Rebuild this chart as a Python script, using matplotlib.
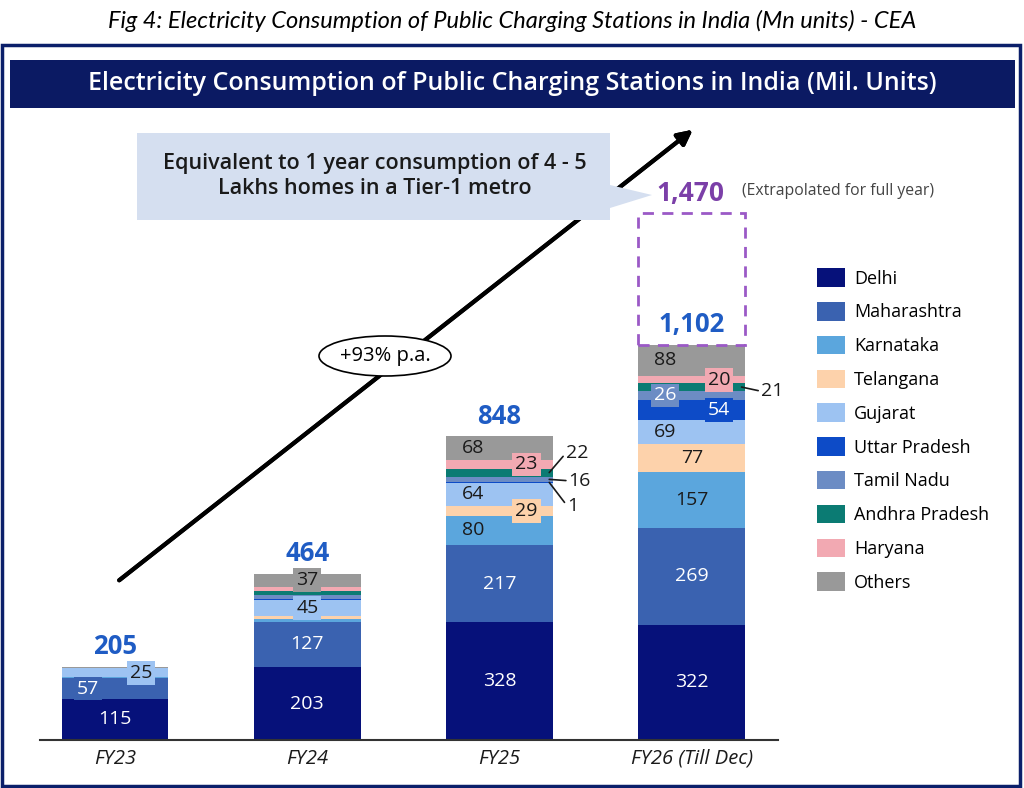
import matplotlib.pyplot as plt
from matplotlib.patches import Rectangle, Ellipse, Polygon
import numpy as np

plt.rcParams['font.family'] = ['Open Sans', 'DejaVu Sans']

# ---- data (Mil. units) ----
years = ['FY23', 'FY24', 'FY25', 'FY26 (Till Dec)']
states = ['Delhi', 'Maharashtra', 'Karnataka', 'Telangana', 'Gujarat',
          'Uttar Pradesh', 'Tamil Nadu', 'Andhra Pradesh', 'Haryana', 'Others']
delhi = [115, 203, 328, 322]
maharashtra = [57, 127, 217, 269]
karnataka = [3, 8, 80, 157]
telangana = [0, 8, 29, 77]
gujarat = [25, 45, 64, 69]
uttar_pradesh = [0, 3, 1, 54]
tamil_nadu = [0, 10, 16, 26]
andhra_pradesh = [0, 12, 22, 21]
haryana = [0, 11, 23, 20]
others = [5, 37, 68, 88]
totals = [205, 464, 848, 1102]
extrapolated_fy26 = 1470
cagr_text = '+93% p.a.'

series = [delhi, maharashtra, karnataka, telangana, gujarat,
          uttar_pradesh, tamil_nadu, andhra_pradesh, haryana, others]
colors = ['#06117a', '#3a62b0', '#5ba6dd', '#fdd2ab', '#9dc3f2',
          '#0d4bc7', '#6c8cc4', '#0b7b73', '#f2a9b2', '#999999']
text_dark = '#1a1a1a'

# label styling: (year idx, state idx) -> (x offset, boxed, white text)
label_style = {
    (0, 0): (0, False, True), (0, 1): (-0.14, True, True), (0, 4): (0.135, True, False),
    (1, 0): (0, False, True), (1, 1): (0, False, True), (1, 4): (0, True, False),
    (1, 9): (0, True, False),
    (2, 0): (0, False, True), (2, 1): (0, False, True), (2, 2): (-0.14, False, False),
    (2, 3): (0.14, True, False), (2, 4): (-0.14, False, False), (2, 8): (0.14, True, False),
    (2, 9): (-0.14, False, False),
    (3, 0): (0, False, True), (3, 1): (0, False, True), (3, 2): (0, False, False),
    (3, 3): (0, False, False), (3, 4): (-0.14, False, False), (3, 5): (0.14, True, True),
    (3, 6): (-0.14, True, True), (3, 8): (0.14, True, False), (3, 9): (-0.14, False, False),
}
# small segments labelled outside: (year idx, state idx) -> text offset in points
outside_labels = {(2, 7): (12, 14), (2, 6): (14, -1), (2, 5): (13, -17), (3, 7): (14, -3)}

W, H = 1024, 788
fig = plt.figure(figsize=(W / 100, H / 100), dpi=100)


def fx(x):
    return x / W


def fy(y):
    return 1 - y / H


# outer frame and title banner
fig.patches.append(Rectangle((fx(2), fy(786)), fx(1018), (786 - 45) / H, transform=fig.transFigure,
                             fill=False, edgecolor='#0b1f6a', lw=2.5))
fig.patches.append(Rectangle((fx(10), fy(108)), fx(1005), 48 / H, transform=fig.transFigure,
                             facecolor='#0b1a63', edgecolor='none'))
fig.text(0.5, fy(21), 'Fig 4: Electricity Consumption of Public Charging Stations in India (Mn units) - CEA',
         ha='center', va='center', fontsize=17, style='italic', family=['Lato', 'DejaVu Sans'])
fig.text(0.5, fy(84), 'Electricity Consumption of Public Charging Stations in India (Mil. Units)',
         ha='center', va='center', fontsize=18, color='white', weight='semibold')

# main axes: baseline at y=740px, 0.3585 px per unit
scale = 0.3585
ymax = 1720
ax = fig.add_axes([fx(40), fy(740), fx(760), ymax * scale / H])
ax.set_xlim(-0.39, 3.562)
ax.set_ylim(0, ymax)
ax.axis('off')
ax.plot([-0.39, 3.45], [0, 0], color='#333333', lw=1.5, clip_on=False, zorder=3)

x = np.arange(len(years))
width = 0.556
bottom = np.zeros(len(years))
for name, vals, col in zip(states, series, colors):
    ax.bar(x, vals, width, bottom=bottom, color=col, label=name, zorder=2)
    bottom += np.array(vals)

# segment labels
cum = np.vstack([np.zeros(len(years)), np.cumsum(series, axis=0)])
for (i, s), (dx, boxed, white) in label_style.items():
    mid = cum[s, i] + series[s][i] / 2
    bbox = dict(boxstyle='square,pad=0.15', fc=colors[s], ec='none') if boxed else None
    ax.text(x[i] + dx, mid, str(series[s][i]), ha='center', va='center', fontsize=14,
            color='white' if white else text_dark, bbox=bbox, zorder=4)
for (i, s), off in outside_labels.items():
    mid = cum[s, i] + series[s][i] / 2
    ax.annotate(str(series[s][i]), xy=(x[i] + width / 2 - 0.02, mid), xytext=off,
                textcoords='offset points', ha='left', va='center', fontsize=14, color=text_dark,
                arrowprops=dict(arrowstyle='-', color=text_dark, lw=1.2, shrinkA=0, shrinkB=0,
                                relpos=(0, 0.5)), zorder=4)

# totals
for i, t in enumerate(totals):
    ax.text(x[i], t + 18, f'{t:,}', ha='center', va='bottom', fontsize=18.5, weight='bold',
            color='#1f5cc4', zorder=4)

# extrapolated FY26 box
ax.add_patch(Rectangle((x[3] - width / 2, totals[3]), width, extrapolated_fy26 - totals[3],
                       fill=False, edgecolor='#9b59c6', lw=2, ls=(0, (4, 3)), zorder=3))
ax.text(x[3] - 0.01, extrapolated_fy26 + 18, f'{extrapolated_fy26:,}', ha='center', va='bottom',
        fontsize=19, weight='bold', color='#7b3fa8')
ax.text(x[3] + 0.26, extrapolated_fy26 + 38, '(Extrapolated for full year)', ha='left', va='bottom',
        fontsize=11.3, color='#444444')

# x tick labels
for i, lab in enumerate(years):
    ax.text(x[i], -52, lab, ha='center', va='center', fontsize=14.5, style='italic', color=text_dark)

# growth arrow, ellipse and callout
fig.add_artist(plt.annotate('', xy=(fx(695), fy(128)), xytext=(fx(117), fy(582)),
                            xycoords='figure fraction', textcoords='figure fraction',
                            arrowprops=dict(arrowstyle='-|>', color='black', lw=3, mutation_scale=22)))
fig.patches.append(Ellipse((fx(385), fy(356)), fx(132), 40 / H, transform=fig.transFigure,
                           facecolor='white', edgecolor='black', lw=1.2, zorder=5))
fig.text(fx(385), fy(356), cagr_text, ha='center', va='center', fontsize=14.5,
         color='black', zorder=6)

fig.patches.append(Polygon([(fx(137), fy(133)), (fx(610), fy(133)), (fx(610), fy(185)),
                            (fx(652), fy(195)), (fx(610), fy(208)), (fx(610), fy(220)),
                            (fx(137), fy(220))], closed=True, transform=fig.transFigure,
                           facecolor='#d5dff0', edgecolor='none', zorder=5))
fig.text(fx(375), fy(176), 'Equivalent to 1 year consumption of 4 - 5\nLakhs homes in a Tier-1 metro',
         ha='center', va='center', fontsize=15.5, weight='semibold', color=text_dark,
         linespacing=1.25, zorder=6)

# legend
handles, labels = ax.get_legend_handles_labels()
fig.legend(handles, labels, loc='upper left', bbox_to_anchor=(fx(810), fy(261)), frameon=False,
           fontsize=13, handlelength=1.55, handleheight=1.2, labelspacing=0.8,
           handletextpad=0.5, borderaxespad=0)

plt.savefig('out.png', dpi=100)
